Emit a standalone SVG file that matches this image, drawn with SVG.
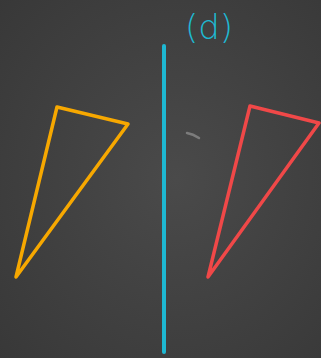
<svg xmlns="http://www.w3.org/2000/svg" width="321" height="358" viewBox="0 0 321 358">
<defs>
<radialGradient id="bg" cx="0.55" cy="0.5" r="0.75">
<stop offset="0" stop-color="#4a4a4a"/>
<stop offset="1" stop-color="#383838"/>
</radialGradient>
<style>
.tri{fill:none;stroke-width:3.5;stroke-linejoin:round;stroke-linecap:round}
</style>
</defs>
<rect width="321" height="358" fill="url(#bg)"/>
<path d="M187 133 Q193 134 199 138" fill="none" stroke="#8a8a8a" stroke-width="2.5" stroke-linecap="round" opacity="0.8"/>
<g id="label">
<text x="209" y="39" text-anchor="middle" font-family="DejaVu Sans, sans-serif" font-weight="300" font-size="34" fill="#1eb8d2">(d)</text>
</g>
<g id="mirror">
<line x1="164" y1="46" x2="164" y2="352" stroke="#1eb8d2" stroke-width="4" stroke-linecap="round"/>
</g>
<g id="orange-triangle">
<polygon class="tri" points="57,107 128,124 16,277" stroke="#f7a800"/>
</g>
<g id="red-triangle">
<polygon class="tri" points="250,106 319,123 208,277" stroke="#f04848"/>
</g>
</svg>
